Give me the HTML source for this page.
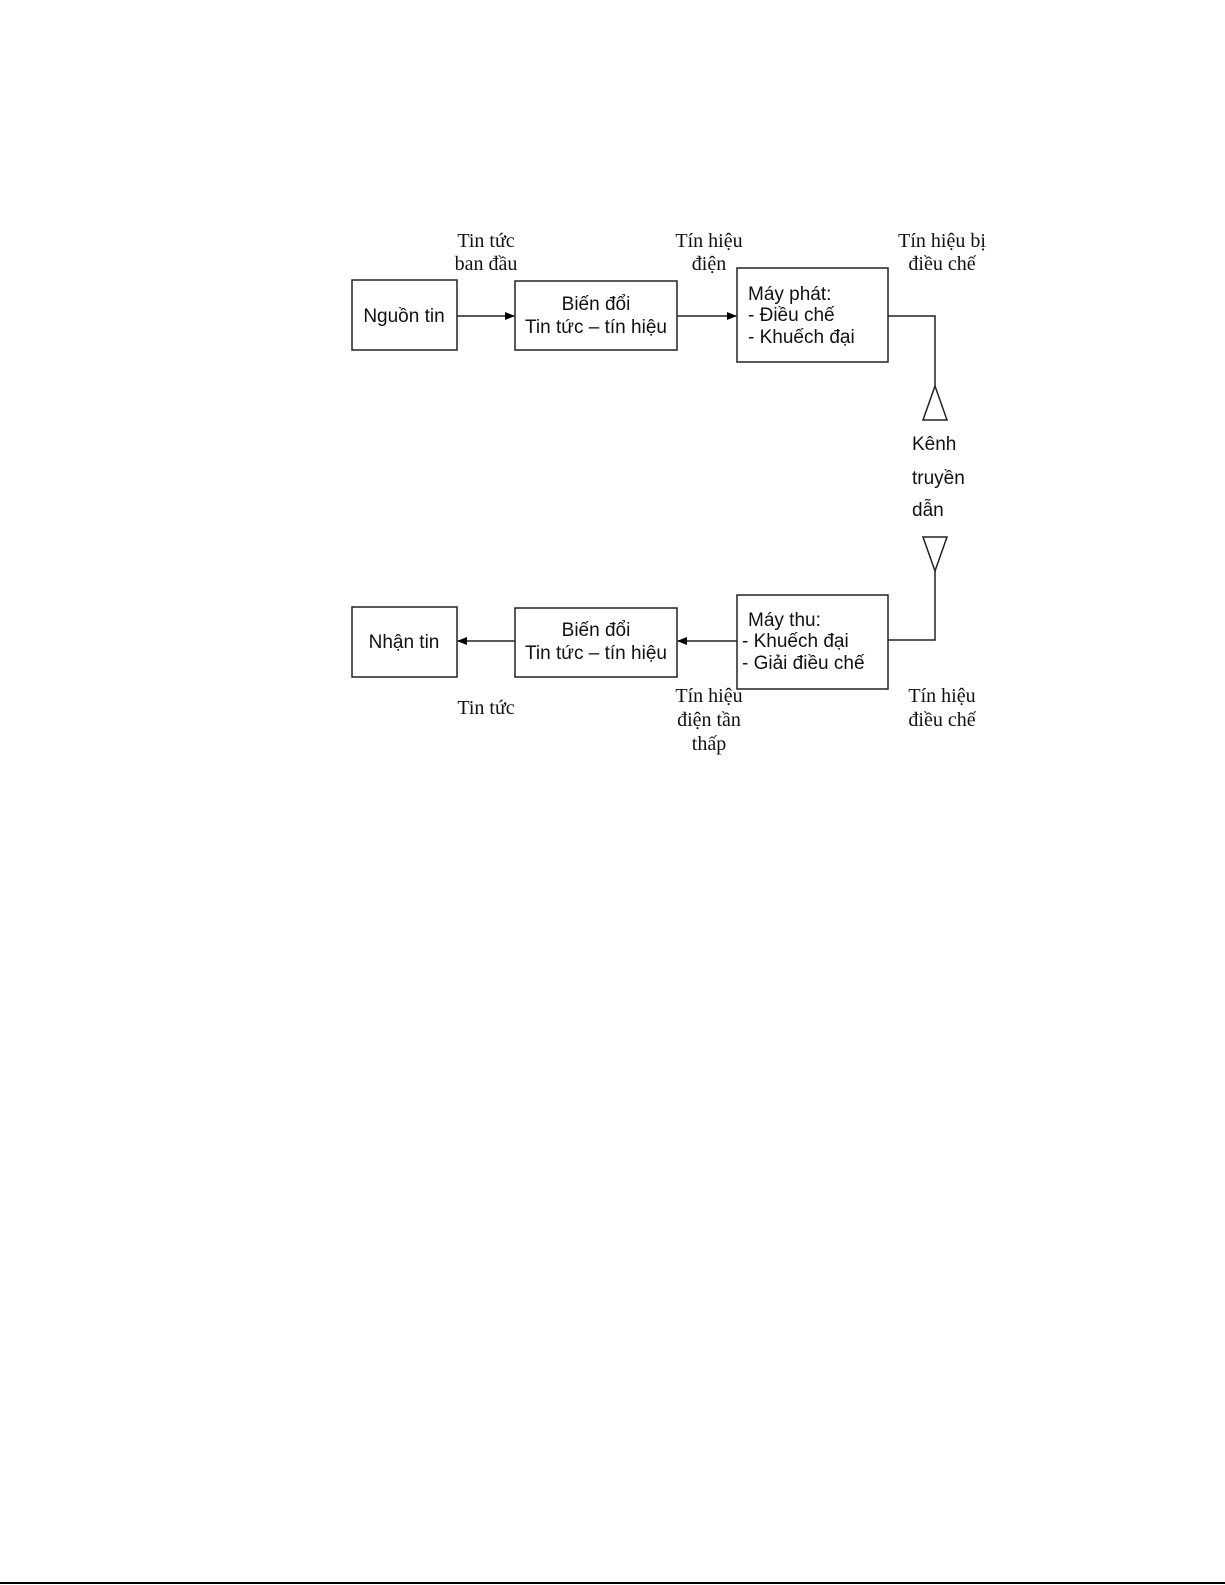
<!DOCTYPE html>
<html><head><meta charset="utf-8"><style>
html,body{margin:0;padding:0;background:#fff}
svg{display:block}
.s{font-family:"Liberation Sans",Arial,sans-serif;font-size:19px;fill:#111}
.r{font-family:"Liberation Serif","Times New Roman",serif;font-size:20px;fill:#111}
</style></head><body>
<svg width="1225" height="1585" viewBox="0 0 1225 1585" xmlns="http://www.w3.org/2000/svg">
<defs><marker id="a" markerWidth="10" markerHeight="8" refX="9" refY="4" orient="auto" markerUnits="userSpaceOnUse"><path d="M0,0 L10,4 L0,8 Z" fill="#000"/></marker></defs>
<g fill="none" stroke="#222" stroke-width="1.5">
<rect x="352" y="280" width="105" height="70"/>
<rect x="515" y="281" width="162" height="69"/>
<rect x="737" y="268" width="151" height="94"/>
<line x1="457" y1="316" x2="514" y2="316" marker-end="url(#a)"/>
<line x1="677" y1="316" x2="736" y2="316" marker-end="url(#a)"/>
<polyline points="888,316 935,316 935,386"/>
<polygon points="935,386 923,420 947,420"/>
<polygon points="923,537 947,537 935,571"/>
<polyline points="935,571 935,640 888,640"/>
<rect x="352" y="607" width="105" height="70"/>
<rect x="515" y="608" width="162" height="69"/>
<rect x="737" y="595" width="151" height="94"/>
<line x1="737" y1="641" x2="678" y2="641" marker-end="url(#a)"/>
<line x1="515" y1="641" x2="458" y2="641" marker-end="url(#a)"/>
</g>
<text class="s" x="404" y="322" text-anchor="middle">Nguồn tin</text>
<text class="s" x="596" y="310" text-anchor="middle">Biến đổi</text>
<text class="s" x="596" y="333" text-anchor="middle">Tin tức – tín hiệu</text>
<text class="s" x="748" y="300">Máy phát:</text>
<text class="s" x="748" y="321">- Điều chế</text>
<text class="s" x="748" y="343">- Khuếch đại</text>
<text class="r" x="486" y="247" text-anchor="middle">Tin tức</text>
<text class="r" x="486" y="270" text-anchor="middle">ban đầu</text>
<text class="r" x="709" y="247" text-anchor="middle">Tín hiệu</text>
<text class="r" x="709" y="270" text-anchor="middle">điện</text>
<text class="r" x="942" y="247" text-anchor="middle">Tín hiệu bị</text>
<text class="r" x="942" y="270" text-anchor="middle">điều chế</text>
<text class="s" x="912" y="450">Kênh</text>
<text class="s" x="912" y="484">truyền</text>
<text class="s" x="912" y="516">dẫn</text>
<text class="s" x="404" y="648" text-anchor="middle">Nhận tin</text>
<text class="s" x="596" y="636" text-anchor="middle">Biến đổi</text>
<text class="s" x="596" y="659" text-anchor="middle">Tin tức – tín hiệu</text>
<text class="s" x="748" y="626">Máy thu:</text>
<text class="s" x="742" y="647">- Khuếch đại</text>
<text class="s" x="742" y="669">- Giải điều chế</text>
<text class="r" x="486" y="714" text-anchor="middle">Tin tức</text>
<text class="r" x="709" y="702" text-anchor="middle">Tín hiệu</text>
<text class="r" x="709" y="726" text-anchor="middle">điện tần</text>
<text class="r" x="709" y="750" text-anchor="middle">thấp</text>
<text class="r" x="942" y="702" text-anchor="middle">Tín hiệu</text>
<text class="r" x="942" y="726" text-anchor="middle">điều chế</text>
<rect x="0" y="1582" width="1225" height="2" fill="#000"/>
</svg>
</body></html>
